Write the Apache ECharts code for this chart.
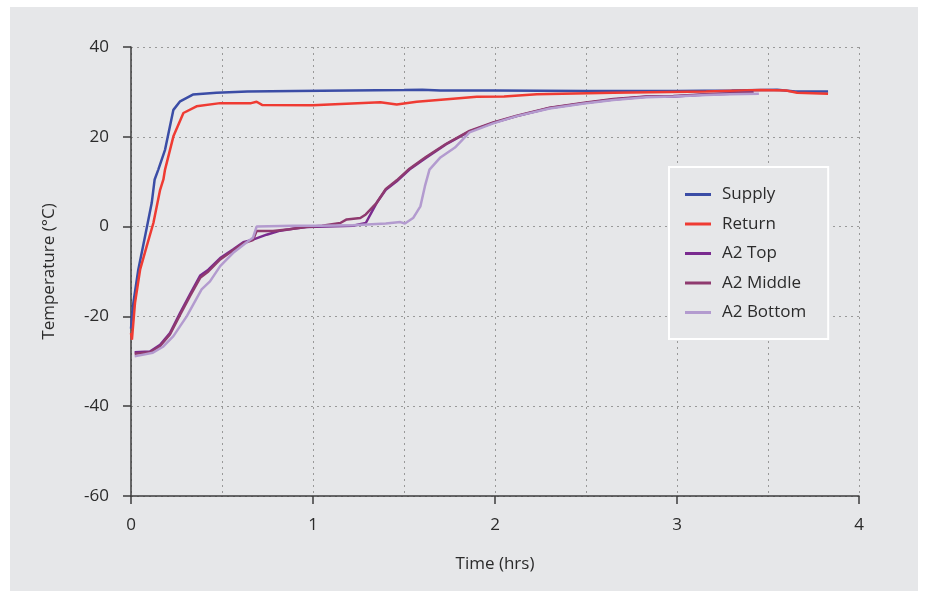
<!DOCTYPE html>
<html>
<head>
<meta charset="utf-8">
<script src="https://cdn.jsdelivr.net/npm/echarts@6/dist/echarts.min.js"></script>
<style>
  html, body { margin: 0; padding: 0; background: #ffffff; }
  #bg { position: absolute; left: 10px; top: 7px; width: 908px; height: 584px; background: #e6e7e9; }
  #chart { position: absolute; left: 0; top: 0; width: 925px; height: 591px; }
</style>
</head>
<body>
<div id="bg"></div>
<div id="chart"></div>
<script>
const seriesNames = ['Supply', 'Return', 'A2 Top', 'A2 Middle', 'A2 Bottom'];
const xTicks = [0, 1, 2, 3, 4];
const yTicks = [-60, -40, -20, 0, 20, 40];

const supplyT = [0, 0.013, 0.04, 0.077, 0.114, 0.13, 0.15, 0.187, 0.233, 0.27, 0.34, 0.47, 0.64, 0.9, 1.2, 1.5, 1.6, 1.7, 2.0, 2.5, 3.0, 3.3, 3.55, 3.65, 3.83];
const supplyV = [-22.7, -17, -9.6, -2.2, 5.3, 10.5, 12.7, 17.1, 26, 27.9, 29.4, 29.8, 30.1, 30.2, 30.3, 30.4, 30.5, 30.3, 30.3, 30.2, 30.2, 30.3, 30.5, 30.1, 30.1];

const returnT = [0, 0.005, 0.022, 0.05, 0.086, 0.123, 0.16, 0.178, 0.187, 0.233, 0.288, 0.36, 0.49, 0.66, 0.69, 0.72, 1.0, 1.09, 1.37, 1.46, 1.57, 1.77, 1.9, 2.05, 2.23, 2.65, 3.16, 3.46, 3.6, 3.66, 3.83];
const returnV = [-23.7, -25.2, -17, -9.6, -4.4, 0.8, 8.2, 10.5, 12.7, 20.1, 25.3, 26.8, 27.5, 27.5, 27.8, 27.1, 27.0, 27.2, 27.7, 27.2, 27.8, 28.5, 28.9, 29.0, 29.5, 29.8, 30.1, 30.4, 30.3, 29.8, 29.6];

const topT = [0.02, 0.104, 0.16, 0.214, 0.27, 0.324, 0.38, 0.425, 0.49, 0.56, 0.617, 0.67, 0.745, 0.82, 0.89, 0.965, 1.075, 1.22, 1.29, 1.35, 1.40, 1.46, 1.53, 1.62, 1.73, 1.86, 1.99, 2.12, 2.30, 2.49, 2.65, 2.83, 2.98, 3.16, 3.29, 3.42];
const topV = [-28.0, -27.8, -26.3, -23.7, -19.2, -15.1, -10.9, -9.6, -7.0, -5.1, -3.5, -2.9, -1.8, -0.9, -0.5, -0.1, 0, 0.2, 0.8, 5.3, 8.2, 10.1, 12.7, 15.3, 18.3, 21.2, 23.1, 24.6, 26.4, 27.5, 28.3, 28.9, 29.0, 29.4, 29.6, 29.8];

const middleT = [0.02, 0.104, 0.16, 0.214, 0.27, 0.324, 0.38, 0.425, 0.49, 0.56, 0.617, 0.67, 0.69, 0.78, 0.87, 0.96, 1.05, 1.15, 1.185, 1.26, 1.29, 1.35, 1.40, 1.46, 1.53, 1.62, 1.73, 1.86, 1.99, 2.12, 2.30, 2.49, 2.65, 2.83, 2.98, 3.16, 3.29, 3.42];
const middleV = [-28.3, -28.0, -26.6, -24.0, -19.6, -15.5, -11.4, -10.0, -7.3, -5.3, -3.7, -3.0, -1.0, -1.0, -0.6, -0.1, 0.2, 0.8, 1.6, 1.9, 2.7, 5.3, 8.4, 10.3, 12.9, 15.5, 18.4, 21.3, 23.2, 24.7, 26.5, 27.6, 28.4, 29.0, 29.1, 29.5, 29.7, 29.9];

const bottomT = [0.02, 0.12, 0.178, 0.233, 0.306, 0.388, 0.434, 0.49, 0.56, 0.636, 0.67, 0.69, 0.89, 1.04, 1.22, 1.40, 1.48, 1.505, 1.55, 1.59, 1.615, 1.64, 1.70, 1.78, 1.86, 1.99, 2.12, 2.30, 2.49, 2.65, 2.83, 2.98, 3.16, 3.29, 3.45];
const bottomV = [-28.9, -28.1, -26.7, -24.4, -20, -14, -12.2, -8.8, -5.9, -3.5, -2.5, 0, 0.2, 0.2, 0.3, 0.7, 1.0, 0.7, 1.9, 4.5, 9.0, 12.7, 15.4, 17.6, 21.0, 23.0, 24.6, 26.3, 27.4, 28.2, 28.8, 29.0, 29.3, 29.5, 29.6];

const colors = ['#3b4da6', '#ef3b33', '#7a2b8f', '#8f3a6f', '#b39bcf'];
const allT = [supplyT, returnT, topT, middleT, bottomT];
const allV = [supplyV, returnV, topV, middleV, bottomV];

function pairs(t, v) { return t.map((x, i) => [x, v[i]]); }

const FONT = 'Open Sans';
const TXT = '#2b2b2b';
const chart = echarts.init(document.getElementById('chart'), null, { renderer: 'canvas' });

chart.setOption({
  backgroundColor: 'transparent',
  animation: false,
  textStyle: { fontFamily: FONT },
  grid: { left: 131, right: 66, top: 47, bottom: 95, containLabel: false },
  legend: {
    orient: 'vertical',
    left: 669,
    top: 167,
    data: seriesNames,
    icon: 'rect',
    itemWidth: 26,
    itemHeight: 3,
    itemGap: 12.5,
    padding: [19, 22, 18, 16],
    borderColor: '#ffffff',
    borderWidth: 2,
    backgroundColor: '#e6e7e9',
    textStyle: { fontFamily: FONT, fontSize: 17, color: TXT, lineHeight: 17, padding: [0, 0, 0, 6] }
  },
  xAxis: {
    type: 'value',
    min: xTicks[0],
    max: xTicks[xTicks.length - 1],
    interval: 1,
    name: 'Time (hrs)',
    nameLocation: 'middle',
    nameGap: 60,
    nameTextStyle: { fontFamily: FONT, fontSize: 17, color: TXT },
    axisLine: { show: true, onZero: false, lineStyle: { color: '#3c3c3c', width: 1.5 } },
    axisTick: { show: true, length: 8, lineStyle: { color: '#3c3c3c', width: 1.5 } },
    axisLabel: { fontFamily: FONT, fontSize: 17, color: TXT, margin: 21 },
    splitLine: { show: true, lineStyle: { color: '#999999', type: [2, 4], width: 1 } },
    minorTick: { show: false, splitNumber: 2 },
    minorSplitLine: { show: true, lineStyle: { color: '#999999', type: [2, 4], width: 1 } }
  },
  yAxis: {
    type: 'value',
    min: yTicks[0],
    max: yTicks[yTicks.length - 1],
    interval: 20,
    name: 'Temperature (°C)',
    nameLocation: 'middle',
    nameGap: 73,
    nameTextStyle: { fontFamily: FONT, fontSize: 17, color: TXT },
    axisLine: { show: true, onZero: false, lineStyle: { color: '#3c3c3c', width: 1.5 } },
    axisTick: { show: true, length: 8, lineStyle: { color: '#3c3c3c', width: 1.5 } },
    axisLabel: { fontFamily: FONT, fontSize: 17, color: TXT, margin: 22 },
    splitLine: { show: true, lineStyle: { color: '#999999', type: [2, 4], width: 1 } }
  },
  series: seriesNames.map((name, i) => ({
    name: name,
    type: 'line',
    data: pairs(allT[i], allV[i]),
    showSymbol: false,
    symbol: 'none',
    color: colors[i],
    lineStyle: { color: colors[i], width: 2.5 },
    z: 2 + i
  }))
});
</script>
</body>
</html>
